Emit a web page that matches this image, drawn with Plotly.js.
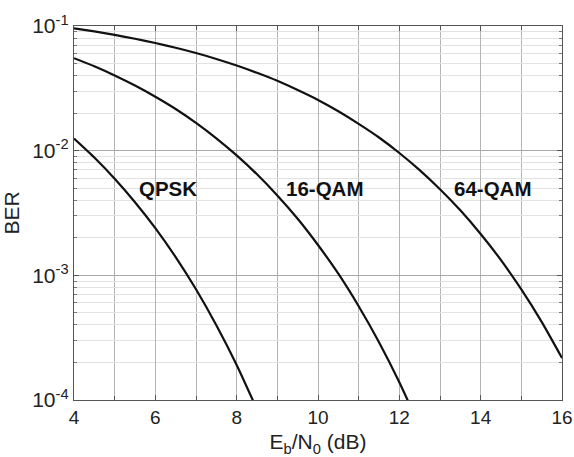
<!DOCTYPE html>
<html>
<head>
<meta charset="utf-8">
<script src="https://cdn.plot.ly/plotly-3.0.1.min.js"></script>
<style>html,body{margin:0;padding:0;background:#fff;}#chart{width:574px;height:457px;}</style>
</head>
<body>
<div id="chart"></div>
<script>
// Eb/N0 (dB) sample points
var ebnoQPSK = [4.0, 4.5, 5.0, 5.5, 6.0, 6.5, 7.0, 7.5, 8.0, 8.5];
var berQPSK  = [0.0125, 0.0088, 0.00595, 0.00386, 0.00239, 0.0014, 0.000773, 0.000398, 0.000191, 0.000084];

var ebno16 = [4.0, 4.5, 5.0, 5.5, 6.0, 6.5, 7.0, 7.5, 8.0, 8.5, 9.0, 9.5, 10.0, 10.5, 11.0, 11.5, 12.0, 12.5];
var ber16  = [0.0552, 0.0475, 0.0401, 0.0333, 0.0271, 0.0216, 0.0167, 0.01256, 0.00916, 0.00646, 0.00437, 0.00284, 0.00175, 0.00103, 0.000565, 0.000291, 0.000139, 0.000061];

var ebno64 = [4.0, 4.5, 5.0, 5.5, 6.0, 6.5, 7.0, 7.5, 8.0, 8.5, 9.0, 9.5, 10.0, 10.5, 11.0, 11.5, 12.0, 12.5, 13.0, 13.5, 14.0, 14.5, 15.0, 15.5, 16.0];
var ber64  = [0.0957, 0.0904, 0.0848, 0.079, 0.073, 0.0669, 0.0607, 0.0544, 0.0482, 0.0421, 0.0363, 0.0306, 0.0255, 0.0207, 0.0164, 0.01275, 0.00958, 0.00698, 0.0049, 0.00332, 0.002146, 0.001324, 0.00077, 0.000423, 0.000217];

var curveNames = ['QPSK', '16-QAM', '64-QAM'];
var labelX = [6.3, 10.15, 14.3];
var labelY = [0.005, 0.005, 0.005];

var xTickVals = [4, 6, 8, 10, 12, 14, 16];
var xTickText = ['4', '6', '8', '10', '12', '14', '16'];
var yTickVals = [0.0001, 0.001, 0.01, 0.1];
var yTickText = ['10<sup>-4</sup>', '10<sup>-3</sup>', '10<sup>-2</sup>', '10<sup>-1</sup>'];

var xs = [ebnoQPSK, ebno16, ebno64];
var ys = [berQPSK, ber16, ber64];
var traces = xs.map(function (x, i) {
  return {x: x, y: ys[i], mode: 'lines', name: curveNames[i],
    line: {color: '#111', width: 2.2, shape: 'spline', smoothing: 0.6}, hoverinfo: 'skip'};
});

var fam = 'Liberation Sans, Arial, sans-serif';

var layout = {
  width: 574, height: 457,
  margin: {l: 74, r: 12, t: 26, b: 57},
  paper_bgcolor: '#fff', plot_bgcolor: '#fff',
  showlegend: false,
  font: {family: fam, color: '#222', size: 19},
  xaxis: {
    range: [4, 16], tickvals: xTickVals, ticktext: xTickText,
    showgrid: true, gridcolor: '#b4b4b4', gridwidth: 1,
    minor: {dtick: 1, showgrid: true, gridcolor: '#b4b4b4', gridwidth: 1, ticks: 'inside', ticklen: 4, tickcolor: '#555'},
    ticks: 'inside', ticklen: 5, tickcolor: '#555',
    showline: true, linecolor: '#555', linewidth: 1.2, mirror: 'ticks',
    zeroline: false,
    tickfont: {size: 19, color: '#222', family: fam},
    title: {text: 'E<sub>b</sub>/N<sub>0</sub> (dB)', font: {size: 21, color: '#222', family: fam}, standoff: 7}
  },
  yaxis: {
    type: 'log', range: [-4, -1], tickvals: yTickVals, ticktext: yTickText,
    showgrid: true, gridcolor: '#a8a8a8', gridwidth: 1,
    minor: {dtick: 'D1', showgrid: true, gridcolor: '#e2e2e2', gridwidth: 1, ticks: 'inside', ticklen: 3, tickcolor: '#777'},
    ticks: 'inside', ticklen: 5, tickcolor: '#555',
    showline: true, linecolor: '#555', linewidth: 1.2, mirror: 'ticks',
    zeroline: false,
    tickfont: {size: 21, color: '#222', family: fam},
    title: {text: 'BER', font: {size: 21, color: '#222', family: fam}, standoff: 8}
  },
  annotations: curveNames.map(function (n, i) {
    return {x: labelX[i], y: Math.log10(labelY[i]), xref: 'x', yref: 'y', text: '<b>' + n + '</b>', showarrow: false,
      font: {size: 20.5, color: '#111', family: fam}};
  })
};

Plotly.newPlot('chart', traces, layout, {displayModeBar: false, staticPlot: true});
</script>
</body>
</html>
